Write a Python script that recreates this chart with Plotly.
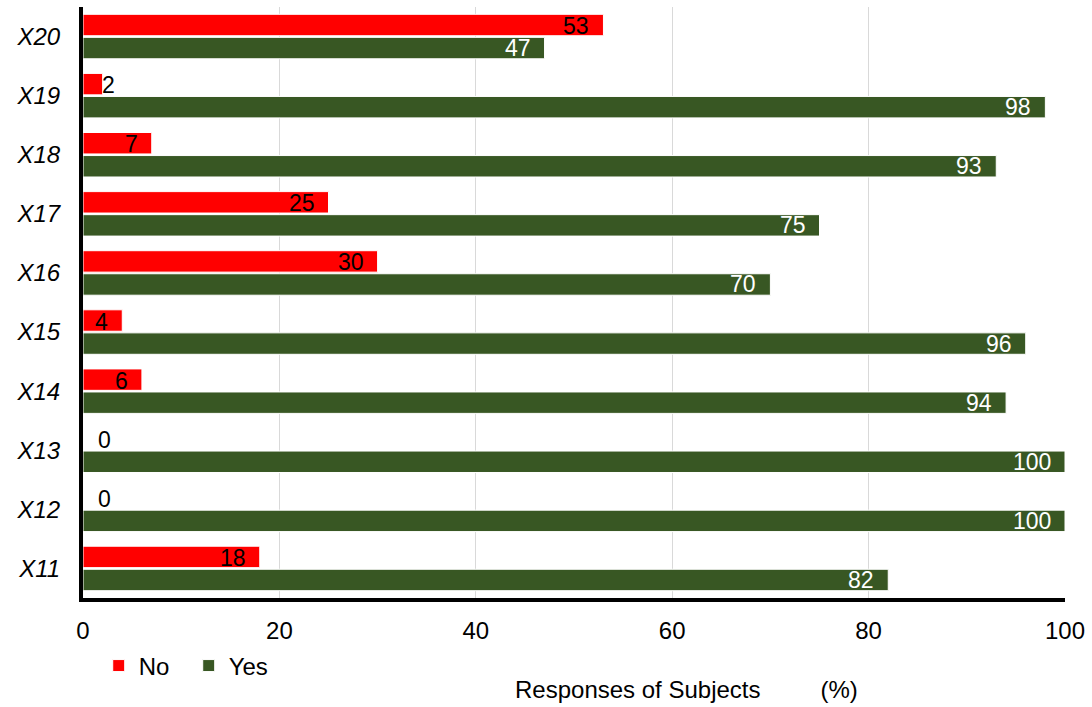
import plotly.graph_objects as go

categories = ["X11", "X12", "X13", "X14", "X15", "X16", "X17", "X18", "X19", "X20"]
no_values = [18, 0, 0, 6, 4, 30, 25, 7, 2, 53]
yes_values = [82, 100, 100, 94, 96, 70, 75, 93, 98, 47]
x_ticks = [0, 20, 40, 60, 80, 100]

FONT = "Liberation Sans, Arial, sans-serif"
FS = 23
TFS = 24
RED = "#FF0000"
GREEN = "#385723"

W, H = 1092, 707
ML, MR, MT, MB = 83, 23, 7, 109
BARGAP, GROUPGAP = 0.22, 0.07
band_px = (H - MT - MB) / len(categories)
slot = (1 - BARGAP) / 2
shift = slot / 2 * band_px

fig = go.Figure()
fig.add_trace(go.Bar(
    y=categories, x=yes_values, orientation="h", name="Yes",
    marker=dict(color=GREEN, line=dict(color="white", width=1)),
    legendrank=2, hoverinfo="x+y",
))
fig.add_trace(go.Bar(
    y=categories, x=no_values, orientation="h", name="No",
    marker=dict(color=RED, line=dict(color="white", width=1)),
    legendrank=1, hoverinfo="x+y",
))

annotations = []
for c, v in zip(categories, yes_values):
    annotations.append(dict(x=v, y=c, xref="x", yref="y", text=str(v), showarrow=False,
                            xanchor="right", yanchor="middle", xshift=-12, yshift=-shift,
                            font=dict(color="white", size=FS, family=FONT)))
for c, v in zip(categories, no_values):
    if v >= 3:
        a = dict(xanchor="right", xshift=-12)
    elif v == 0:
        a = dict(xanchor="left", xshift=13)
    else:
        a = dict(xanchor="left", xshift=-3)
    annotations.append(dict(x=v, y=c, xref="x", yref="y", text=str(v), showarrow=False,
                            yanchor="middle", yshift=shift - 1,
                            font=dict(color="black", size=FS, family=FONT), **a))
annotations.append(dict(text="Responses of Subjects         (%)", xref="paper", yref="paper",
                        x=0.615, y=-0.155, xanchor="center", yanchor="middle", showarrow=False,
                        font=dict(size=TFS, family=FONT)))

fig.update_layout(
    width=W, height=H,
    margin=dict(l=ML, r=MR, t=MT, b=MB),
    paper_bgcolor="white", plot_bgcolor="white",
    barmode="group", bargap=BARGAP, bargroupgap=GROUPGAP,
    font=dict(family=FONT, size=FS, color="black"),
    showlegend=True,
    legend=dict(orientation="h", x=0.016, y=-0.115, xanchor="left", yanchor="middle",
                font=dict(size=TFS, family=FONT), traceorder="normal",
                itemwidth=30, entrywidth=45, bgcolor="rgba(0,0,0,0)"),
    xaxis=dict(range=[0, 100], tickvals=x_ticks, showgrid=True, gridcolor="#D9D9D9",
               gridwidth=1, zeroline=False, showline=True, linecolor="black", linewidth=4,
               ticks="", ticklabelstandoff=8, tickfont=dict(size=TFS, family=FONT)),
    yaxis=dict(showgrid=False, zeroline=False, showline=True, linecolor="black", linewidth=4,
               ticks="", ticklabelstandoff=14,
               tickfont=dict(size=TFS, family=FONT, style="italic")),
    annotations=annotations,
)

fig.write_html("out.html")
